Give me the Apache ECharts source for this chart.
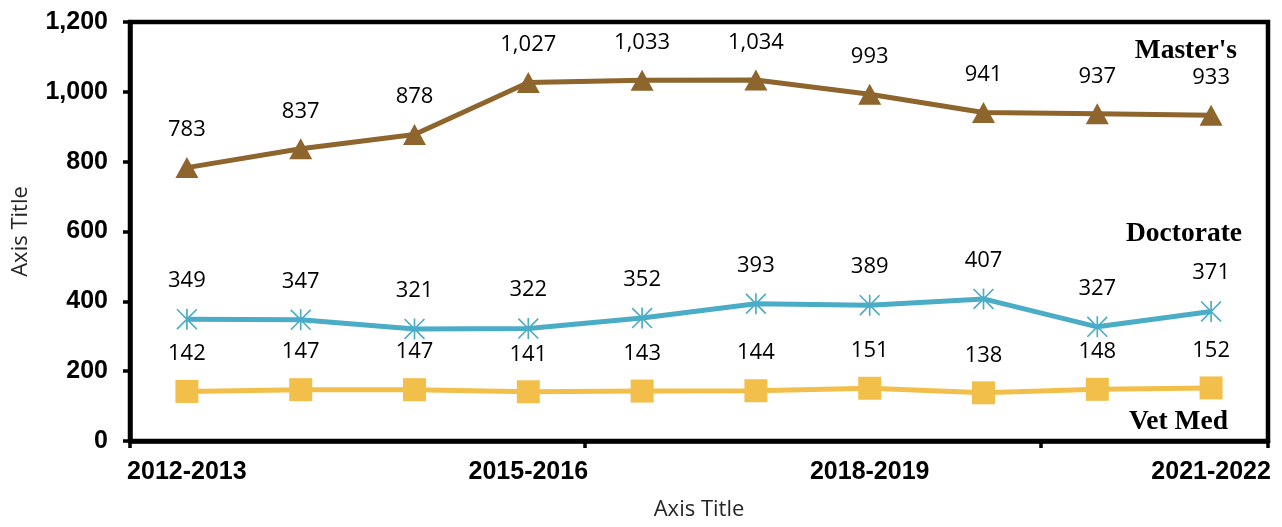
<!DOCTYPE html>
<html>
<head>
<meta charset="utf-8">
<script src="https://cdn.jsdelivr.net/npm/echarts@6/dist/echarts.min.js"></script>
<style>
html,body{margin:0;padding:0;background:#fff;}
#chart{width:1282px;height:527px;}
</style>
</head>
<body>
<div id="chart"></div>
<script>
const categories = ['2012-2013','2013-2014','2014-2015','2015-2016','2016-2017','2017-2018','2018-2019','2019-2020','2020-2021','2021-2022'];
const masters = [783, 837, 878, 1027, 1033, 1034, 993, 941, 937, 933];
const doctorate = [349, 347, 321, 322, 352, 393, 389, 407, 327, 371];
const vetMed = [142, 147, 147, 141, 143, 144, 151, 138, 148, 152];
const yTicks = {min: 0, max: 1200, interval: 200};
const seriesNames = ["Master's", 'Doctorate', 'Vet Med'];
const axisTitles = {x: 'Axis Title', y: 'Axis Title'};

const asterisk = 'path://M9.2,0 L10.8,0 L10.8,20 L9.2,20 Z M0,1.1 L1.1,0 L20,18.9 L18.9,20 Z M18.9,0 L20,1.1 L1.1,20 L0,18.9 Z';

const chart = echarts.init(document.getElementById('chart'));
const labelStyle = {
  show: true, position: 'top', color: '#000',
  fontFamily: '"Open Sans", "Noto Sans", sans-serif', fontSize: 22,
  formatter: p => p.value.toLocaleString('en-US')
};
const seriesTitleFont = 'bold 27.5px "Liberation Serif", "Times New Roman", serif';
chart.setOption({
  animation: false,
  backgroundColor: '#fff',
  grid: {left: 130, right: 14, top: 22, bottom: 86, containLabel: false, outerBoundsMode: 'none',
    show: true, borderColor: '#000', borderWidth: 4.5, backgroundColor: 'transparent'},
  xAxis: {
    type: 'category', data: categories, boundaryGap: true,
    name: axisTitles.x, nameLocation: 'middle', nameGap: 58,
    nameTextStyle: {fontFamily: '"Open Sans", "Noto Sans", sans-serif', fontSize: 22, color: '#262626'},
    axisLine: {lineStyle: {color: '#000', width: 4.5}},
    axisTick: {show: true, interval: 3, length: 7, lineStyle: {color: '#000', width: 3.5}},
    axisLabel: {interval: 2, margin: 19, color: '#000', fontWeight: 'bold', fontSize: 25, fontFamily: '"Liberation Sans", Arial, sans-serif'},
    splitLine: {show: false}
  },
  yAxis: {
    type: 'value', min: yTicks.min, max: yTicks.max, interval: yTicks.interval,
    name: axisTitles.y, nameLocation: 'middle', nameGap: 98, nameRotate: 90,
    nameTextStyle: {fontFamily: '"Open Sans", "Noto Sans", sans-serif', fontSize: 22, color: '#262626'},
    axisLine: {show: true, lineStyle: {color: '#000', width: 4.5}},
    axisTick: {show: true, length: 7, lineStyle: {color: '#000', width: 3.5}},
    axisLabel: {margin: 22, color: '#000', fontWeight: 'bold', fontSize: 25, fontFamily: '"Liberation Sans", Arial, sans-serif',
      formatter: v => v.toLocaleString('en-US')},
    splitLine: {show: false}
  },
  series: [
    {name: seriesNames[0], type: 'line', data: masters, symbol: 'triangle', symbolSize: [23, 21],
      lineStyle: {color: '#8D652D', width: 5}, itemStyle: {color: '#8D652D'},
      label: Object.assign({}, labelStyle, {distance: 16}), z: 3},
    {name: seriesNames[1], type: 'line', data: doctorate, symbol: asterisk, symbolSize: 21,
      lineStyle: {color: '#4BACC6', width: 5}, itemStyle: {color: '#4BACC6'},
      label: Object.assign({}, labelStyle, {distance: 17}), z: 3},
    {name: seriesNames[2], type: 'line', data: vetMed, symbol: 'rect', symbolSize: 23,
      lineStyle: {color: '#F3BF4B', width: 5}, itemStyle: {color: '#F3BF4B'},
      label: Object.assign({}, labelStyle, {distance: 15}), z: 3}
  ],
  graphic: [
    {type: 'text', right: 45, top: 37, style: {text: seriesNames[0], font: seriesTitleFont, fill: '#000'}},
    {type: 'text', right: 40, top: 220, style: {text: seriesNames[1], font: seriesTitleFont, fill: '#000'}},
    {type: 'text', right: 54, top: 408, style: {text: seriesNames[2], font: seriesTitleFont, fill: '#000'}}
  ]
});
</script>
</body>
</html>
